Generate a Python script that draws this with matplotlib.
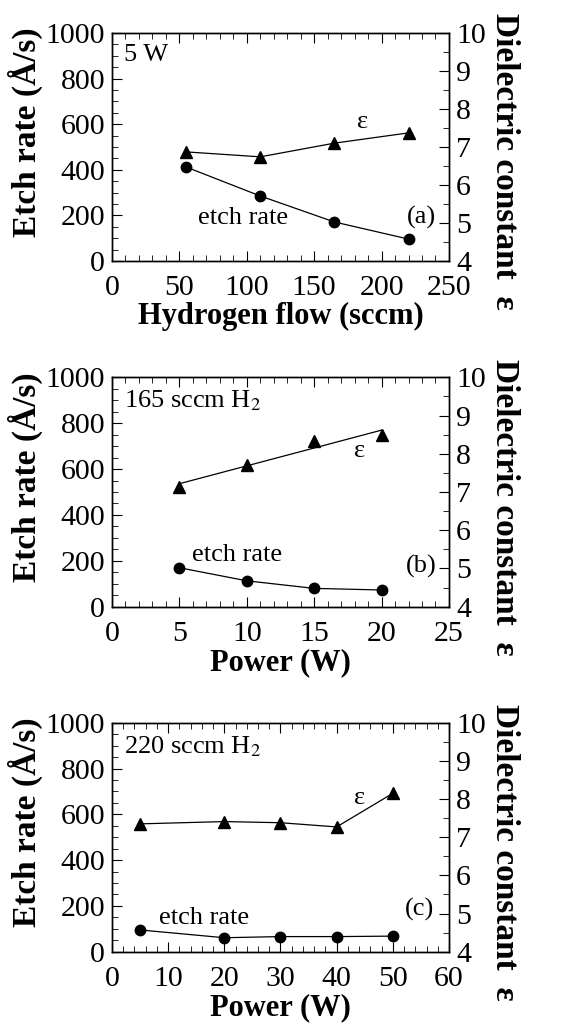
import matplotlib
matplotlib.use("Agg")
import matplotlib.pyplot as plt
import numpy as np
from matplotlib.ticker import MultipleLocator

plt.rcParams["font.family"] = ["Liberation Serif", "DejaVu Serif"]
plt.rcParams["mathtext.fontset"] = "stix"

# panel (a): vs hydrogen flow at 5 W
flow_a = [55, 110, 165, 220]
etch_a = [412, 285, 171, 96]
eps_a = [6.87, 6.74, 7.10, 7.37]

# panel (b): vs power at 165 sccm H2
power_b = [5, 10, 15, 20]
etch_b = [170, 113, 80, 73]
eps_b = [7.14, 7.71, 8.33, 8.49]

# panel (c): vs power at 220 sccm H2
power_c = [5, 20, 30, 40, 50]
etch_c = [95, 61, 66, 66, 68]
eps_c = [7.35, 7.41, 7.38, 7.27, 8.15]

TICK_FS = 21.5
XLABEL_FS = 22
YLABEL_FS = 24
NOTE_FS = 19

fig = plt.figure(figsize=(5.61, 10.23), dpi=100)


def make_panel(rect, x, etch, eps, xmax, xmajor, xminor, xlabel, cond, tag,
               pos_eps, pos_etch, pos_tag, fit_eps=False):
    ax = fig.add_axes(rect)
    ax.plot(x, etch, "-o", color="black", lw=0.9, ms=7.5)
    ax.set_xlim(0, xmax)
    ax.set_ylim(0, 1000)
    ax.xaxis.set_major_locator(MultipleLocator(xmajor))
    ax.xaxis.set_minor_locator(MultipleLocator(xminor))
    ax.yaxis.set_major_locator(MultipleLocator(200))
    ax.yaxis.set_minor_locator(MultipleLocator(50))
    ax.tick_params(which="both", direction="in", top=True, right=False,
                   labelsize=TICK_FS, pad=5)
    ax.tick_params(axis="x", pad=10)
    ax.tick_params(which="major", length=7)
    ax.tick_params(which="minor", length=4)
    ax.set_xlabel(xlabel, fontsize=XLABEL_FS, fontweight="bold", labelpad=1)
    ax.set_ylabel("Etch rate (Å/s)", fontsize=YLABEL_FS, fontweight="bold")
    ax.yaxis.set_label_coords(-0.205, 0.565)

    ax2 = ax.twinx()
    ax2.set_ylim(4, 10)
    ax2.yaxis.set_major_locator(MultipleLocator(1))
    ax2.yaxis.set_minor_locator(MultipleLocator(0.5))
    ax2.tick_params(which="both", direction="in", labelsize=TICK_FS, pad=5)
    ax2.tick_params(which="major", length=7)
    ax2.tick_params(which="minor", length=4)
    if fit_eps:
        # straight least-squares line through the epsilon points
        k, b = np.polyfit(x, eps, 1)
        xs = np.array([x[0], x[-1]])
        ax2.plot(xs, k * xs + b, color="black", lw=0.9)
        ax2.plot(x, eps, "^", color="black", ms=8.5)
    else:
        ax2.plot(x, eps, "-^", color="black", lw=0.9, ms=8.5)
    ax2.set_ylabel("Dielectric constant  ε", fontsize=YLABEL_FS,
                   fontweight="bold", rotation=270)
    ax2.yaxis.set_label_coords(1.21, 0.435)

    for a in (ax, ax2):
        for s in a.spines.values():
            s.set_linewidth(1.0)

    ax.text(0.035, 0.95, cond, transform=ax.transAxes, fontsize=NOTE_FS,
            va="top", ha="left")
    ax.text(*pos_eps, "ε", transform=ax.transAxes, fontsize=NOTE_FS,
            ha="center", va="center")
    ax.text(*pos_etch, "etch rate", transform=ax.transAxes, fontsize=NOTE_FS,
            ha="center", va="center")
    ax.text(*pos_tag, tag, transform=ax.transAxes, fontsize=NOTE_FS,
            ha="center", va="center")
    return ax


W = 0.6007
make_panel([0.1996, 0.7449, W, 0.2229], flow_a, etch_a, eps_a, 250, 50, 10,
           "Hydrogen flow (sccm)", "5 W", "(a)",
           (0.745, 0.61), (0.389, 0.19), (0.917, 0.19))
make_panel([0.1996, 0.4069, W, 0.2243], power_b, etch_b, eps_b, 25, 5, 1,
           "Power (W)", "165 sccm H$_2$", "(b)",
           (0.736, 0.68), (0.371, 0.225), (0.917, 0.175), fit_eps=True)
make_panel([0.1996, 0.0697, W, 0.2238], power_c, etch_c, eps_c, 60, 10, 2,
           "Power (W)", "220 sccm H$_2$", "(c)",
           (0.734, 0.67), (0.272, 0.145), (0.914, 0.185))

fig.savefig("out.png", dpi=100)
